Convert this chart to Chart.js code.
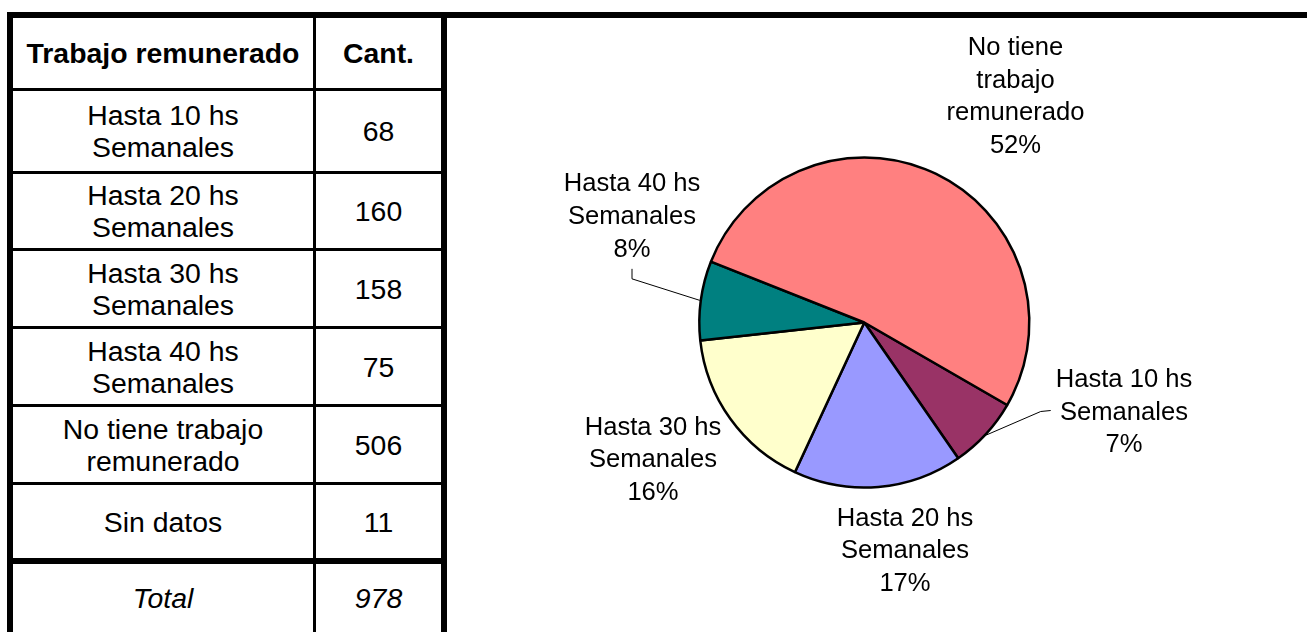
<!DOCTYPE html>
<html lang="es">
<head>
<meta charset="utf-8">
<title>Trabajo remunerado</title>
<script src="https://cdn.jsdelivr.net/npm/chart.js@4"></script>
<style>
  html, body { margin: 0; padding: 0; background: #fff; }
  body { width: 1307px; height: 632px; position: relative; overflow: hidden;
         font-family: "Liberation Sans", Arial, sans-serif; color: #000; }
  .linea { position: absolute; background: #000; }
  .celda { position: absolute; display: flex; align-items: center; justify-content: center;
           text-align: center; font-size: 28.4px; line-height: 32px; }
  .celda span { max-width: 290px; }
  #panel { position: absolute; left: 447px; top: 18px; width: 860px; height: 614px; }
</style>
</head>
<body>
<div id="tabla"></div>
<div id="panel"><canvas id="grafico" width="860" height="614"></canvas></div>
<script>
// datos
const encabezados = ['Trabajo remunerado', 'Cant.'];
const categorias = ['Hasta 10 hs Semanales', 'Hasta 20 hs Semanales', 'Hasta 30 hs Semanales',
                    'Hasta 40 hs Semanales', 'No tiene trabajo remunerado', 'Sin datos'];
const cantidades = [68, 160, 158, 75, 506, 11];
const etiquetaTotal = 'Total';
const fueraDelGrafico = ['Sin datos'];
const colores = ['#993366', '#9999FF', '#FFFFCC', '#008080', '#FF8080'];

const total = cantidades.reduce((a, b) => a + b, 0);
const etiquetasPie = categorias.filter(c => !fueraDelGrafico.includes(c));
const datosPie = etiquetasPie.map(c => cantidades[categorias.indexOf(c)]);

// ---- tabla (lado izquierdo) ----
const tabla = document.getElementById('tabla');
const columnas = [[13, 313], [316, 441]];
const separadores = [[88, 3], [171, 3], [248, 3], [326, 3], [404, 3], [482, 3], [558, 6]];

function linea(x, y, w, h) {
  const d = document.createElement('div');
  d.className = 'linea';
  Object.assign(d.style, { left: x + 'px', top: y + 'px', width: w + 'px', height: h + 'px' });
  tabla.appendChild(d);
}
linea(7, 12, 1300, 6);          // borde superior
linea(7, 12, 6, 620);           // borde izquierdo
linea(441, 12, 6, 620);         // borde derecho
linea(313, 18, 3, 614);         // divisor de columnas
separadores.forEach(([y, h]) => linea(13, y, 428, h));

const filas = [encabezados.map(t => ({ t, estilo: 'bold' }))]
  .concat(categorias.map((c, i) => [{ t: c }, { t: String(cantidades[i]) }]))
  .concat([[{ t: etiquetaTotal, estilo: 'italic' }, { t: String(total), estilo: 'italic' }]]);

let yIni = 18;
filas.forEach((fila, i) => {
  const yFin = i < separadores.length ? separadores[i][0] : 632;
  fila.forEach((celda, j) => {
    const d = document.createElement('div');
    d.className = 'celda';
    Object.assign(d.style, {
      left: columnas[j][0] + 'px', width: (columnas[j][1] - columnas[j][0]) + 'px',
      top: yIni + 'px', height: (yFin - yIni) + 'px'
    });
    if (celda.estilo === 'bold') d.style.fontWeight = 'bold';
    if (celda.estilo === 'italic') d.style.fontStyle = 'italic';
    const s = document.createElement('span');
    s.textContent = celda.t;
    d.appendChild(s);
    tabla.appendChild(d);
  });
  if (i < separadores.length) yIni = separadores[i][0] + separadores[i][1];
});

// ---- gráfico de torta ----
const FUENTE = 25.6;
const INTERLINEA = 32.7;
const ALTO_MAYUS = 18.3;
// centro del bloque de texto de cada etiqueta, relativo al centro de la torta
const posEtiquetas = [[259.7, 88], [40.7, 226.7], [-211.3, 135.8], [-232.3, -107.5], [151.2, -227.7]];
const guias = ['izquierda', null, null, 'abajo', null];

function partir(ctx, texto, maxAncho) {
  const palabras = texto.split(' ');
  const lineas = [];
  let actual = '';
  palabras.forEach(p => {
    const prueba = actual ? actual + ' ' + p : p;
    if (actual && ctx.measureText(prueba).width > maxAncho) {
      lineas.push(actual);
      actual = p;
    } else actual = prueba;
  });
  if (actual) lineas.push(actual);
  return lineas;
}

const etiquetasPlugin = {
  id: 'etiquetas',
  afterDatasetsDraw(chart) {
    const { ctx } = chart;
    const meta = chart.getDatasetMeta(0);
    const suma = datosPie.reduce((a, b) => a + b, 0);
    ctx.save();
    ctx.font = FUENTE + 'px "Liberation Sans", Arial, sans-serif';
    ctx.fillStyle = '#000';
    ctx.strokeStyle = '#000';
    ctx.lineWidth = 1;
    ctx.textAlign = 'center';
    ctx.textBaseline = 'alphabetic';
    meta.data.forEach((arc, i) => {
      const { x, y, startAngle, endAngle, outerRadius } =
        arc.getProps(['x', 'y', 'startAngle', 'endAngle', 'outerRadius'], true);
      const lineas = partir(ctx, etiquetasPie[i], 160);
      lineas.push(Math.round(datosPie[i] / suma * 100) + '%');
      const cx = x + posEtiquetas[i][0];
      const cy = y + posEtiquetas[i][1];
      const alto = (lineas.length - 1) * INTERLINEA + ALTO_MAYUS;
      const base0 = cy - alto / 2 + ALTO_MAYUS;
      lineas.forEach((l, k) => ctx.fillText(l, cx, base0 + k * INTERLINEA));

      if (guias[i]) {
        const mid = (startAngle + endAngle) / 2;
        const px = x + Math.cos(mid) * (outerRadius + 1);
        const py = y + Math.sin(mid) * (outerRadius + 1);
        let fin, codo;
        if (guias[i] === 'abajo') {
          const ult = base0 + (lineas.length - 1) * INTERLINEA;
          fin = [cx, ult + 12];
          codo = [cx, ult + 22];
        } else {
          const ancho = Math.max(...lineas.map(l => ctx.measureText(l).width));
          fin = [cx - ancho / 2 - 5, cy];
          codo = [cx - ancho / 2 - 15, cy + 1];
        }
        ctx.beginPath();
        ctx.moveTo(fin[0], fin[1]);
        ctx.lineTo(codo[0], codo[1]);
        ctx.lineTo(px, py);
        ctx.stroke();
      }
    });
    ctx.restore();
  }
};

new Chart(document.getElementById('grafico'), {
  type: 'pie',
  data: {
    labels: etiquetasPie,
    datasets: [{
      data: datosPie,
      backgroundColor: colores,
      borderColor: '#000',
      borderWidth: 2.5
    }]
  },
  options: {
    responsive: false,
    animation: false,
    events: [],
    rotation: 120,
    radius: 165,
    layout: { padding: { left: 0, right: 25.4, top: 0, bottom: 5 } },
    plugins: { legend: { display: false }, tooltip: { enabled: false } }
  },
  plugins: [etiquetasPlugin]
});
</script>
</body>
</html>
